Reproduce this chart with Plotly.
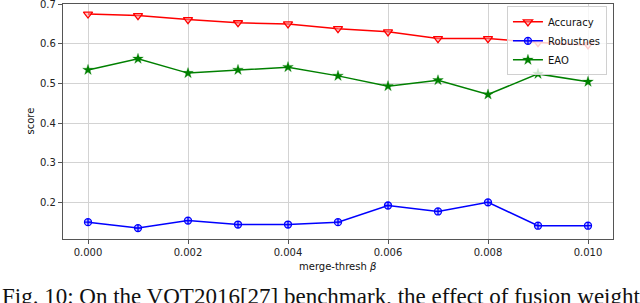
import plotly.graph_objects as go

beta = [0.000, 0.001, 0.002, 0.003, 0.004, 0.005, 0.006, 0.007, 0.008, 0.009, 0.010]
accuracy = [0.675, 0.671, 0.661, 0.653, 0.650, 0.638, 0.630, 0.613, 0.613, 0.603, 0.597]
robustness = [0.150, 0.135, 0.154, 0.144, 0.144, 0.150, 0.192, 0.177, 0.200, 0.141, 0.141]
eao = [0.534, 0.562, 0.526, 0.534, 0.541, 0.519, 0.493, 0.508, 0.472, 0.524, 0.504]

x_ticks = [0.000, 0.002, 0.004, 0.006, 0.008, 0.010]
x_ticklabels = ["0.000", "0.002", "0.004", "0.006", "0.008", "0.010"]
y_ticks = [0.2, 0.3, 0.4, 0.5, 0.6, 0.7]
y_ticklabels = ["0.2", "0.3", "0.4", "0.5", "0.6", "0.7"]
caption = "Fig. 10: On the VOT2016[27] benchmark, the effect of fusion weight"

fig = go.Figure()
fig.add_trace(go.Scatter(
    x=beta, y=accuracy, name="Accuracy", mode="lines+markers",
    line=dict(color="#ff0000", width=1.5),
    marker=dict(symbol="triangle-down", size=8, color="rgba(255,150,150,0.5)",
                line=dict(color="#ff0000", width=1.3)),
))
fig.add_trace(go.Scatter(
    x=beta, y=robustness, name="Robustnes", mode="lines+markers",
    line=dict(color="#0000ff", width=1.5),
    marker=dict(symbol="circle-cross", size=7, color="rgba(130,130,255,0.5)",
                line=dict(color="#0000ff", width=1.3)),
))
fig.add_trace(go.Scatter(
    x=beta, y=eao, name="EAO", mode="lines+markers",
    line=dict(color="#008000", width=1.5),
    marker=dict(symbol="star", size=8, color="#008000",
                line=dict(color="#008000", width=0.3)),
))

axis_font = dict(family="DejaVu Sans", size=10, color="#222")
fig.update_layout(
    width=640, height=303,
    margin=dict(l=63, r=27, t=4, b=64),
    paper_bgcolor="white", plot_bgcolor="white",
    font=axis_font,
    showlegend=True,
    legend=dict(
        x=0.989, y=0.99, xanchor="right", yanchor="top",
        bgcolor="rgba(255,255,255,0.8)", bordercolor="#d0d0d0", borderwidth=1,
        font=dict(family="DejaVu Sans", size=10, color="#111"),
        itemwidth=30, tracegroupgap=0,
    ),
    xaxis=dict(
        range=[-0.0005, 0.0105], tickvals=x_ticks, ticktext=x_ticklabels,
        showgrid=True, gridcolor="#d3d3d3", gridwidth=1,
        showline=True, linecolor="#555", linewidth=1.3, mirror=True,
        ticks="outside", ticklen=4, tickcolor="#555", zeroline=False,
        tickfont=axis_font, automargin=False, ticklabeloverflow="allow",
    ),
    yaxis=dict(
        range=[0.1075, 0.7003], tickvals=y_ticks, ticktext=y_ticklabels,
        showgrid=True, gridcolor="#d3d3d3", gridwidth=1,
        showline=True, linecolor="#555", linewidth=1.3, mirror=True,
        ticks="outside", ticklen=4, tickcolor="#555", zeroline=False,
        tickfont=axis_font, automargin=False, ticklabeloverflow="allow",
    ),
)

fig.add_annotation(text="merge-thresh <i>β</i>", xref="paper", yref="paper",
                   x=0.5, y=(239 - 259) / 235, xanchor="center", yanchor="top",
                   showarrow=False, font=dict(family="DejaVu Sans", size=10, color="#111"))
fig.add_annotation(text="score", xref="paper", yref="paper",
                   x=(30 - 63) / 550, y=0.5, xanchor="center", yanchor="middle",
                   textangle=-90, showarrow=False,
                   font=dict(family="DejaVu Sans", size=10, color="#111"))
fig.add_annotation(text=caption, xref="paper", yref="paper",
                   x=(0 - 63) / 550, y=1 - (282 - 4) / 235, xanchor="left", yanchor="top",
                   showarrow=False,
                   font=dict(family="Liberation Serif", size=23, color="#111"))

fig.write_html("out.html", config={"displayModeBar": False},
               post_script="document.body.style.margin='0';document.body.style.overflow='hidden';")
